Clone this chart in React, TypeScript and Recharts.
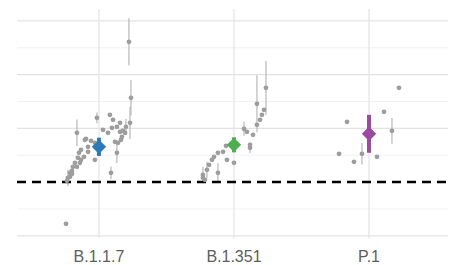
import React from 'react';
import { ScatterChart, Scatter, XAxis, YAxis, ErrorBar, ReferenceLine } from 'recharts';

const categories = ['B.1.1.7', 'B.1.351', 'P.1'];
const categoryPositions = [1, 2, 3];
const gridMajor = [0, 2, 3, 4];
const gridMinor = [0.5, 1.5, 2.5, 3.5];
const thresholdValue = 1;

// grey study estimates without visible error bars
const b117Points = [
  { x: 0.756, y: 0.223 }, { x: 0.904, y: 1.805 }, { x: 0.941, y: 1.767 }, { x: 0.867, y: 1.6 },
  { x: 0.852, y: 1.544 }, { x: 0.844, y: 1.451 }, { x: 0.867, y: 1.414 }, { x: 0.822, y: 1.358 },
  { x: 0.807, y: 1.284 }, { x: 0.8, y: 1.209 }, { x: 0.785, y: 1.172 }, { x: 0.763, y: 1.023 },
  { x: 0.919, y: 1.656 }, { x: 0.97, y: 1.73 }, { x: 0.97, y: 1.414 }, { x: 0.919, y: 1.563 },
  { x: 0.889, y: 1.47 }, { x: 0.859, y: 1.358 }, { x: 0.837, y: 1.284 }, { x: 0.8, y: 1.153 },
  { x: 0.785, y: 1.098 }, { x: 0.896, y: 1.786 }, { x: 1.03, y: 1.972 }, { x: 1.067, y: 1.916 },
  { x: 1.104, y: 2.158 }, { x: 1.133, y: 2.028 }, { x: 1.156, y: 1.935 }, { x: 1.17, y: 1.842 },
  { x: 1.193, y: 1.916 }, { x: 1.141, y: 1.73 }, { x: 1.119, y: 1.749 }, { x: 1.178, y: 1.953 },
  { x: 1.081, y: 2.251 }, { x: 1.156, y: 2.102 }, { x: 1.096, y: 2.009 }, { x: 1.163, y: 1.786 },
];
const b117ErrPoints = [
  { x: 1.222, y: 3.609, err: 0.44 }, { x: 1.237, y: 2.567, err: 0.33 }, { x: 0.837, y: 1.916, err: 0.25 },
  { x: 0.77, y: 1.079, err: 0.15 }, { x: 0.985, y: 2.195, err: 0.1 }, { x: 1.089, y: 1.172, err: 0.12 },
  { x: 1.133, y: 1.544, err: 0.19 }, { x: 1.23, y: 2.102, err: 0.3 }, { x: 1.2, y: 2.028, err: 0.15 },
];
const b1351Points = [
  { x: 1.941, y: 1.674 }, { x: 1.919, y: 1.563 }, { x: 1.881, y: 1.544 }, { x: 1.852, y: 1.47 },
  { x: 1.837, y: 1.414 }, { x: 1.815, y: 1.321 }, { x: 1.77, y: 1.079 }, { x: 1.785, y: 1.042 },
  { x: 1.948, y: 1.414 }, { x: 2.0, y: 1.358 }, { x: 2.096, y: 1.935 }, { x: 2.141, y: 1.879 },
  { x: 2.17, y: 2.065 }, { x: 2.193, y: 2.158 }, { x: 2.207, y: 2.251 }, { x: 2.222, y: 2.344 },
  { x: 2.119, y: 1.693 },
];
const b1351ErrPoints = [
  { x: 1.8, y: 1.228, err: 0.15 }, { x: 1.77, y: 1.135, err: 0.15 }, { x: 1.881, y: 1.172, err: 0.18 },
  { x: 2.119, y: 1.637, err: 0.1 }, { x: 2.074, y: 1.991, err: 0.13 }, { x: 2.17, y: 2.456, err: 0.53 },
  { x: 2.237, y: 2.753, err: 0.5 },
];
const p1Points = [
  { x: 3.222, y: 2.753 }, { x: 3.111, y: 2.307 }, { x: 2.837, y: 2.121 }, { x: 2.778, y: 1.526 },
  { x: 2.889, y: 1.377 }, { x: 3.059, y: 1.47 },
];
const p1ErrPoints = [
  { x: 3.17, y: 1.953, err: 0.24 }, { x: 2.948, y: 1.526, err: 0.2 },
];

// pooled estimates
const pooledB117 = [{ x: 1, y: 1.656, err: 0.17 }];
const pooledB1351 = [{ x: 2, y: 1.693, err: 0.14 }];
const pooledP1 = [{ x: 3, y: 1.898, err: 0.353 }];

const GREY = '#9d9d9d';
const GREY_BAR = '#b8b8b8';

const Dot = (props: any) => <circle cx={props.cx} cy={props.cy} r={2.4} fill={GREY} />;
const makeDiamond = (color: string) => (props: any) => {
  const { cx, cy } = props;
  const h = 7.2;
  return (
    <polygon
      points={`${cx},${cy - h} ${cx + h},${cy} ${cx},${cy + h} ${cx - h},${cy}`}
      fill={color}
    />
  );
};

export default function App() {
  const allGrey = [b117Points, b1351Points, p1Points];
  const allErr = [b117ErrPoints, b1351ErrPoints, p1ErrPoints];
  const pooled = [
    { data: pooledB117, color: '#2b7bba' },
    { data: pooledB1351, color: '#4caf50' },
    { data: pooledP1, color: '#9c4aa0' },
  ];
  return (
    <div style={{ position: 'absolute', left: 0, top: 0, width: 455, height: 265, background: '#fff' }}>
      <ScatterChart width={455} height={265} margin={{ top: 9, right: 7, left: 17, bottom: 0 }}>
        <XAxis
          type="number"
          dataKey="x"
          domain={[0.393, 3.585]}
          ticks={categoryPositions}
          tickFormatter={(v: number) => categories[v - 1]}
          axisLine={false}
          tickLine={false}
          height={27}
          tickMargin={7}
          tick={{ fontSize: 16, fill: '#5e5e5e', fontFamily: 'Liberation Sans, Arial, sans-serif' }}
          allowDataOverflow
        />
        <YAxis type="number" dataKey="y" domain={[-0.04, 4.22]} hide allowDataOverflow />
        {gridMinor.map((v) => (
          <ReferenceLine key={'mn' + v} y={v} stroke="#eeeeee" strokeWidth={0.8} />
        ))}
        {gridMajor.map((v) => (
          <ReferenceLine key={'mj' + v} y={v} stroke="#e3e3e3" strokeWidth={1.2} />
        ))}
        {categoryPositions.map((v) => (
          <ReferenceLine key={'vx' + v} x={v} stroke="#e3e3e3" strokeWidth={1.2} />
        ))}
        {allErr.map((d, i) => (
          <Scatter key={'e' + i} data={d} shape={Dot} isAnimationActive={false}>
            <ErrorBar dataKey="err" direction="y" width={0} stroke={GREY_BAR} strokeWidth={1.2} />
          </Scatter>
        ))}
        {allGrey.map((d, i) => (
          <Scatter key={'g' + i} data={d} shape={Dot} isAnimationActive={false} />
        ))}
        <ReferenceLine y={thresholdValue} stroke="#000" strokeWidth={2.5} strokeDasharray="9 6" />
        {pooled.map((p, i) => (
          <Scatter key={'p' + i} data={p.data} shape={makeDiamond(p.color)} isAnimationActive={false}>
            <ErrorBar dataKey="err" direction="y" width={0} stroke={p.color} strokeWidth={4} />
          </Scatter>
        ))}
      </ScatterChart>
    </div>
  );
}
